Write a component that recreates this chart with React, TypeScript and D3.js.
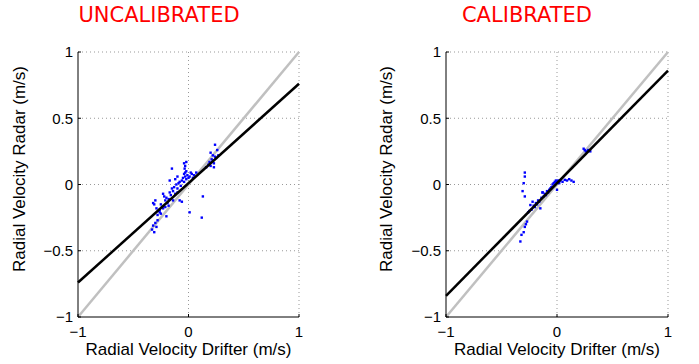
import React from "react";
import * as d3 from "d3";

const uncalX = [-0.33, -0.32, -0.31, -0.30, -0.29, -0.28, -0.30, -0.31, -0.29, -0.27, -0.26, -0.25, -0.24, -0.23, -0.22, -0.21, -0.20, -0.19, -0.18, -0.17, -0.16, -0.15, -0.14, -0.13, -0.12, -0.11, -0.10, -0.09, -0.08, -0.07, -0.06, -0.05, -0.04, -0.03, -0.02, -0.01, -0.04, -0.03, -0.035, -0.02, -0.03, -0.02, -0.15, -0.17, -0.12, -0.10, 0.01, 0.03, 0.05, 0.07, 0.02, 0.04, 0.13, 0.01, 0.12, 0.16, 0.18, 0.19, 0.20, 0.21, 0.22, 0.23, 0.24, 0.25, 0.24, 0.26, 0.27, 0.22, -0.20, -0.18, -0.14, -0.10, -0.08, -0.06, -0.26, -0.23, -0.21, -0.32, -0.28, -0.25, -0.04, 0.00, 0.20, 0.23];
const uncalY = [-0.34, -0.31, -0.36, -0.29, -0.32, -0.27, -0.12, -0.15, -0.18, -0.20, -0.19, -0.22, -0.17, -0.07, -0.09, -0.12, -0.10, -0.14, -0.11, -0.06, -0.08, -0.03, -0.05, -0.02, -0.07, 0.00, -0.03, 0.01, 0.02, -0.01, 0.03, 0.05, 0.02, 0.06, 0.04, 0.07, 0.16, 0.14, 0.12, 0.10, 0.09, 0.17, 0.12, 0.03, 0.04, 0.06, 0.06, 0.08, 0.07, 0.09, 0.09, 0.05, -0.09, -0.21, -0.25, 0.13, 0.15, 0.17, 0.14, 0.19, 0.18, 0.16, 0.21, 0.20, 0.30, 0.26, 0.22, 0.22, -0.24, -0.16, -0.12, -0.06, -0.12, -0.13, -0.21, -0.18, -0.17, -0.14, -0.23, -0.15, 0.08, 0.05, 0.24, 0.13];

const calX = [-0.29, -0.29, -0.30, -0.31, -0.29, -0.27, -0.29, -0.32, -0.33, -0.30, -0.28, -0.24, -0.22, -0.21, -0.20, -0.19, -0.18, -0.17, -0.16, -0.15, -0.14, -0.13, -0.12, -0.11, -0.10, -0.09, -0.08, -0.07, -0.06, -0.05, -0.04, -0.03, -0.02, -0.01, 0.00, 0.01, 0.02, 0.03, 0.05, 0.07, 0.09, 0.11, 0.13, 0.15, 0.00, -0.13, 0.24, 0.26, 0.28, 0.30, 0.25, -0.26, -0.25, -0.23];
const calY = [0.09, 0.06, 0.01, -0.05, -0.09, -0.28, -0.32, -0.38, -0.43, -0.36, -0.30, -0.155, -0.13, -0.16, -0.17, -0.14, -0.15, -0.12, -0.13, -0.18, -0.10, -0.06, -0.09, -0.07, -0.08, -0.05, -0.06, -0.04, -0.03, -0.02, 0.00, 0.01, 0.02, 0.03, 0.02, 0.03, 0.01, 0.03, 0.02, 0.035, 0.03, 0.04, 0.03, 0.02, -0.04, -0.06, 0.27, 0.25, 0.26, 0.25, 0.26, -0.21, -0.20, -0.19];

const titles = ["UNCALIBRATED", "CALIBRATED"];
const fitSlope = [0.75, 0.85];
const fitIntercept = [0.01, 0.01];
const yTicks = [-1, -0.5, 0, 0.5, 1];
const xTicks = [-1, 0, 1];
const xLabel = "Radial Velocity Drifter (m/s)";
const yLabel = "Radial Velocity Radar (m/s)";

const fmt = (v: number) => (v < 0 ? "\u2212" + String(-v) : String(v));

type PanelProps = {
  xs: number[];
  ys: number[];
  title: string;
  slope: number;
  intercept: number;
  left: number;
  right: number;
  titleX: number;
  yLabelX: number;
};

function Panel({ xs, ys, title, slope, intercept, left, right, titleX, yLabelX }: PanelProps) {
  const top = 52;
  const bottom = 317;
  const x = d3.scaleLinear().domain([-1, 1]).range([left, right]);
  const y = d3.scaleLinear().domain([-1, 1]).range([bottom, top]);
  const line = d3.line<[number, number]>().x((d) => x(d[0])).y((d) => y(d[1]));
  const font = "'Liberation Sans', Arial, sans-serif";
  return (
    <g>
      <text x={titleX} y={22} textAnchor="middle" fill="#ff0000" fontSize={21} fontFamily="'DejaVu Sans', sans-serif">
        {title}
      </text>
      {yTicks.filter((t) => t !== -1).map((t) => (
        <line key={"gy" + t} x1={left} x2={right} y1={y(t)} y2={y(t)} stroke="#999" strokeWidth={1} strokeDasharray="1,3" />
      ))}
      {xTicks.filter((t) => t !== -1).map((t) => (
        <line key={"gx" + t} x1={x(t)} x2={x(t)} y1={top} y2={bottom} stroke="#999" strokeWidth={1} strokeDasharray="1,3" />
      ))}
      <path d={line([[-1, -1], [1, 1]]) || ""} stroke="#c0c0c0" strokeWidth={2.5} fill="none" />
      {xs.map((v, i) => (
        <rect key={i} x={x(v) - 1.2} y={y(ys[i]) - 1.2} width={2.4} height={2.4} fill="#0000ff" />
      ))}
      <path d={line([[-1, slope * -1 + intercept], [1, slope + intercept]]) || ""} stroke="#000" strokeWidth={2.5} fill="none" />
      <line x1={left} x2={left} y1={top} y2={bottom} stroke="#000" strokeWidth={1} />
      <line x1={left} x2={right} y1={bottom} y2={bottom} stroke="#000" strokeWidth={1} />
      {yTicks.map((t) => (
        <g key={"ty" + t}>
          <line x1={left} x2={left + 3} y1={y(t)} y2={y(t)} stroke="#000" />
          <text x={left - 5} y={y(t)} dy="0.36em" textAnchor="end" fontSize={15} fontFamily={font} fill="#000">
            {fmt(t)}
          </text>
        </g>
      ))}
      {xTicks.map((t) => (
        <g key={"tx" + t}>
          <line x1={x(t)} x2={x(t)} y1={bottom} y2={bottom - 3} stroke="#000" />
          <text x={x(t)} y={bottom + 20} textAnchor="middle" fontSize={15} fontFamily={font} fill="#000">
            {fmt(t)}
          </text>
        </g>
      ))}
      <text x={(left + right) / 2} y={355} textAnchor="middle" fontSize={17} fontFamily={font} fill="#000">
        {xLabel}
      </text>
      <text
        transform={`translate(${yLabelX},169) rotate(-90)`}
        textAnchor="middle"
        fontSize={17}
        fontFamily={font}
        fill="#000"
      >
        {yLabel}
      </text>
    </g>
  );
}

export default function App() {
  return (
    <div style={{ position: "absolute", left: 0, top: 0 }}>
      <svg width={699} height={364} style={{ display: "block", background: "#fff" }}>
        <Panel xs={uncalX} ys={uncalY} title={titles[0]} slope={fitSlope[0]} intercept={fitIntercept[0]} left={78} right={299} titleX={159} yLabelX={25} />
        <Panel xs={calX} ys={calY} title={titles[1]} slope={fitSlope[1]} intercept={fitIntercept[1]} left={446} right={668} titleX={527} yLabelX={392} />
      </svg>
    </div>
  );
}
